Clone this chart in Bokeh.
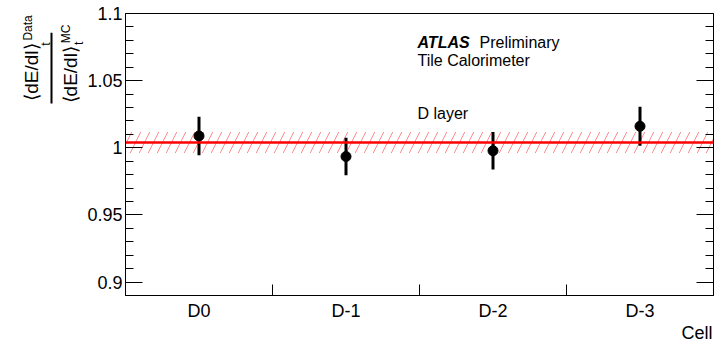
import numpy as np
from bokeh.plotting import figure
from bokeh.layouts import row, column
from bokeh.core.properties import value
from bokeh.models import (Range1d, FixedTicker, LinearAxis, Label, Span,
                          ColumnDataSource)
from bokeh.embed import file_html
from bokeh.resources import INLINE

# ---- data ----
cells = ["D0", "D-1", "D-2", "D-3"]
ratio = [1.0088, 0.9935, 0.9978, 1.0160]
ratio_err = [0.0143, 0.0140, 0.0140, 0.0145]
fit_value = 1.0040
fit_err = 0.0078
y_major = [0.9, 0.95, 1.0, 1.05, 1.1]
y_major_labels = ["0.9", "0.95", "1", "1.05", "1.1"]
y_minor = [0.89, 0.91, 0.92, 0.93, 0.94, 0.96, 0.97, 0.98, 0.99, 1.01, 1.02,
           1.03, 1.04, 1.06, 1.07, 1.08, 1.09]

FONT = "Liberation Sans"
xpos = list(range(len(cells)))
x_lo, x_hi = -0.5, len(cells) - 0.5
y_lo, y_hi = 0.89, 1.1

LEFT_W = 84
TOP_H = 323
MAIN_W = 725 - LEFT_W

src = ColumnDataSource(dict(
    x=xpos, y=ratio,
    lo=[v - e for v, e in zip(ratio, ratio_err)],
    hi=[v + e for v, e in zip(ratio, ratio_err)],
))

p = figure(width=MAIN_W, height=TOP_H, x_range=Range1d(x_lo, x_hi),
           y_range=Range1d(y_lo, y_hi), output_backend="svg",
           toolbar_location=None, min_border_left=39, min_border_right=12,
           min_border_top=13, min_border_bottom=27)
p.xgrid.visible = False
p.ygrid.visible = False
p.outline_line_color = "black"
p.outline_line_width = 1
p.background_fill_color = "white"
p.border_fill_color = "white"

# hatched fit band
p.quad(left=[x_lo], right=[x_hi], bottom=[fit_value - fit_err],
       top=[fit_value + fit_err], fill_color=None, line_color=None,
       hatch_pattern="/", hatch_color="red", hatch_alpha=0.45,
       hatch_weight=1, hatch_scale=18)
p.add_layout(Span(location=fit_value, dimension="width", line_color="red",
                  line_width=2.5))

# points with error bars
p.segment(x0="x", y0="lo", x1="x", y1="hi", source=src, line_color="black",
          line_width=3)
p.scatter(x="x", y="y", source=src, marker="circle", size=10,
          fill_color="black", line_color="black")

# y axis (left)
yt = FixedTicker(ticks=y_major, minor_ticks=y_minor)
ya = p.yaxis[0]
ya.ticker = yt
ya.major_label_overrides = {t: l for t, l in zip(y_major, y_major_labels)}
ya.major_tick_in = 17
ya.major_tick_out = 0
ya.minor_tick_in = 8
ya.minor_tick_out = 0
ya.major_label_standoff = 3
ya.major_label_text_font = FONT
ya.major_label_text_font_size = "18px"
ya.major_label_text_color = "black"
ya.axis_line_color = "black"

# right axis with ticks only
ra = LinearAxis(ticker=yt, major_tick_in=17, major_tick_out=0,
                minor_tick_in=8, minor_tick_out=0, major_label_standoff=0,
                major_label_overrides={t: "" for t in y_major},
                major_label_text_font_size="10px", axis_line_color="black")
p.add_layout(ra, "right")

# x axis
xa = p.xaxis[0]
xa.ticker = FixedTicker(ticks=xpos,
                        minor_ticks=[i + 0.5 for i in xpos[:-1]])
xa.major_label_overrides = {i: c for i, c in zip(xpos, cells)}
xa.major_tick_in = 0
xa.major_tick_out = 0
xa.minor_tick_in = 11
xa.minor_tick_out = 0
xa.major_label_standoff = 5
xa.major_label_text_font = FONT
xa.major_label_text_font_size = "18px"
xa.major_label_text_color = "black"
xa.axis_line_color = "black"

# in-frame texts (screen offsets from frame bottom-left)
def tl(x, y, txt, style="normal"):
    p.add_layout(Label(x=x, y=y, x_units="screen", y_units="screen",
                       text=txt, text_align="left", text_baseline="middle",
                       text_font=FONT, text_font_size="16px",
                       text_font_style=style, text_color="black"))

tl(292, 253, "ATLAS", "bold italic")
tl(354, 253, "Preliminary")
tl(292, 235, "Tile Calorimeter")
tl(292, 182, "D layer")


def blank(w, h):
    f = figure(width=w, height=h, x_range=Range1d(0, w), y_range=Range1d(0, h),
               output_backend="svg", toolbar_location=None, title=None,
               x_axis_location=None, y_axis_location=None, min_border=0)
    f.xgrid.visible = False
    f.ygrid.visible = False
    f.outline_line_color = None
    f.background_fill_color = "white"
    f.border_fill_color = "white"
    return f

# y axis title as a rotated fraction (anchors at the lower start of each text)
yl = blank(LEFT_W, TOP_H)
def rl(x, y, txt, size):
    yl.text(x=[x], y=[TOP_H - y], text=[txt], angle=np.pi / 2,
            text_align="left", text_baseline="middle",
            text_font=value(FONT), text_font_size=size, text_color="black")

rl(31, 100, "\u27e8dE/dl\u27e9", "19px")
rl(27, 31, "Data", "12px")
rl(45, 37, "t", "12px")
rl(70, 103, "\u27e8dE/dl\u27e9", "19px")
rl(65, 34, "MC", "12px")
rl(78, 36, "t", "12px")
yl.segment(x0=[51], y0=[TOP_H - 22], x1=[51], y1=[TOP_H - 103],
           line_color="black", line_width=2)

# x axis title strip
BOT_H = 341 - TOP_H
xl = blank(725, BOT_H)
xl.text(x=[712], y=[BOT_H - 9], text=["Cell"], text_align="right",
        text_baseline="middle", text_font=value(FONT),
        text_font_size="18px", text_color="black")

layout = column(row(yl, p, spacing=0), xl, spacing=0)
open("out.html", "w").write(file_html(layout, INLINE))
